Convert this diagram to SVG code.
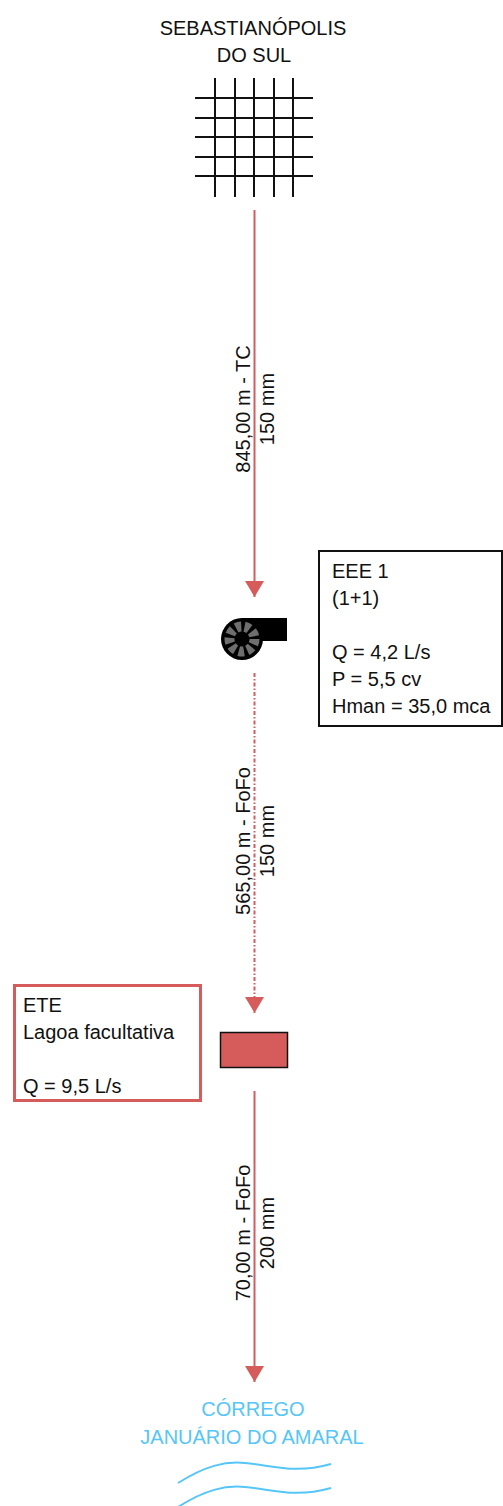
<svg xmlns="http://www.w3.org/2000/svg" width="503" height="1506" viewBox="0 0 503 1506">
  <style>
    .t { font-family: "Liberation Sans", Arial, sans-serif; font-size: 20px; fill: #111; }
    .c { text-anchor: middle; }
    .blue { fill: #55c6f7; }
    .pipe { stroke: #d65c5c; stroke-width: 2; fill: none; }
    .dash { stroke-dasharray: 4 2 1.5 2; }
    .grid { stroke: #111; stroke-width: 2; }
    .wave { stroke: #55c6f7; stroke-width: 2; fill: none; }
  </style>
  <defs>
    <marker id="arr" markerUnits="userSpaceOnUse" viewBox="0 0 16 19" markerWidth="16" markerHeight="19" refX="16" refY="9.5" orient="auto">
      <path d="M0,0 L16,9.5 L0,19 z" fill="#d65c5c"/>
    </marker>
  </defs>

  <g id="city">
    <text class="t c" x="253" y="35">SEBASTIANÓPOLIS</text>
    <text class="t c" x="254" y="62">DO SUL</text>
    <g class="grid">
      <line x1="215" y1="78" x2="215" y2="197"/>
      <line x1="235" y1="78" x2="235" y2="197"/>
      <line x1="254" y1="78" x2="254" y2="197"/>
      <line x1="274" y1="78" x2="274" y2="197"/>
      <line x1="293" y1="78" x2="293" y2="197"/>
      <line x1="195" y1="98" x2="313" y2="98"/>
      <line x1="195" y1="118" x2="313" y2="118"/>
      <line x1="195" y1="137" x2="313" y2="137"/>
      <line x1="195" y1="157" x2="313" y2="157"/>
      <line x1="195" y1="176" x2="313" y2="176"/>
    </g>
  </g>

  <g id="connectors">
    <path class="pipe" d="M254.5,210 L254.5,597" marker-end="url(#arr)"/>
    <path class="pipe dash" d="M254.5,673 L254.5,1013" marker-end="url(#arr)"/>
    <path class="pipe" d="M254.5,1091 L254.5,1382" marker-end="url(#arr)"/>
    <text class="t c" transform="translate(250,409) rotate(-90)">845,00 m - TC</text>
    <text class="t c" transform="translate(274,409) rotate(-90)">150 mm</text>
    <text class="t c" transform="translate(250,841) rotate(-90)">565,00 m - FoFo</text>
    <text class="t c" transform="translate(274,841) rotate(-90)">150 mm</text>
    <text class="t c" transform="translate(250,1233) rotate(-90)">70,00 m - FoFo</text>
    <text class="t c" transform="translate(274,1233) rotate(-90)">200 mm</text>
  </g>

  <g id="eee1">
    <rect x="241" y="618" width="46" height="23" fill="#000"/>
    <circle cx="242" cy="639" r="21" fill="#000"/>
    <circle cx="242" cy="639" r="12.5" fill="none" stroke="#6e6e6e" stroke-width="10" stroke-dasharray="5.4 3.33"/>
    <rect x="319" y="551" width="183" height="175" fill="#fff" stroke="#111" stroke-width="2"/>
    <text class="t" x="332" y="578">EEE 1</text>
    <text class="t" x="332" y="605">(1+1)</text>
    <text class="t" x="332" y="659">Q = 4,2 L/s</text>
    <text class="t" x="332" y="686">P = 5,5 cv</text>
    <text class="t" x="332" y="713">Hman = 35,0 mca</text>
  </g>

  <g id="ete">
    <rect x="220.5" y="1032.5" width="67" height="35" fill="#d65c5c" stroke="#111" stroke-width="1.5"/>
    <rect x="14.5" y="985.5" width="186" height="115" fill="#fff" stroke="#d65c5c" stroke-width="3"/>
    <text class="t" x="23" y="1012">ETE</text>
    <text class="t" x="23" y="1039">Lagoa facultativa</text>
    <text class="t" x="23" y="1093">Q = 9,5 L/s</text>
  </g>

  <g id="corrego">
    <text class="t c blue" x="253" y="1416">CÓRREGO</text>
    <text class="t c blue" x="252" y="1444">JANUÁRIO DO AMARAL</text>
    <path class="wave" d="M178,1483 C205,1466 225,1461 245,1463 C275,1466 295,1474 331,1464"/>
    <path class="wave" d="M178,1507 C205,1490 225,1485 245,1487 C275,1490 295,1498 331,1488"/>
  </g>
</svg>
